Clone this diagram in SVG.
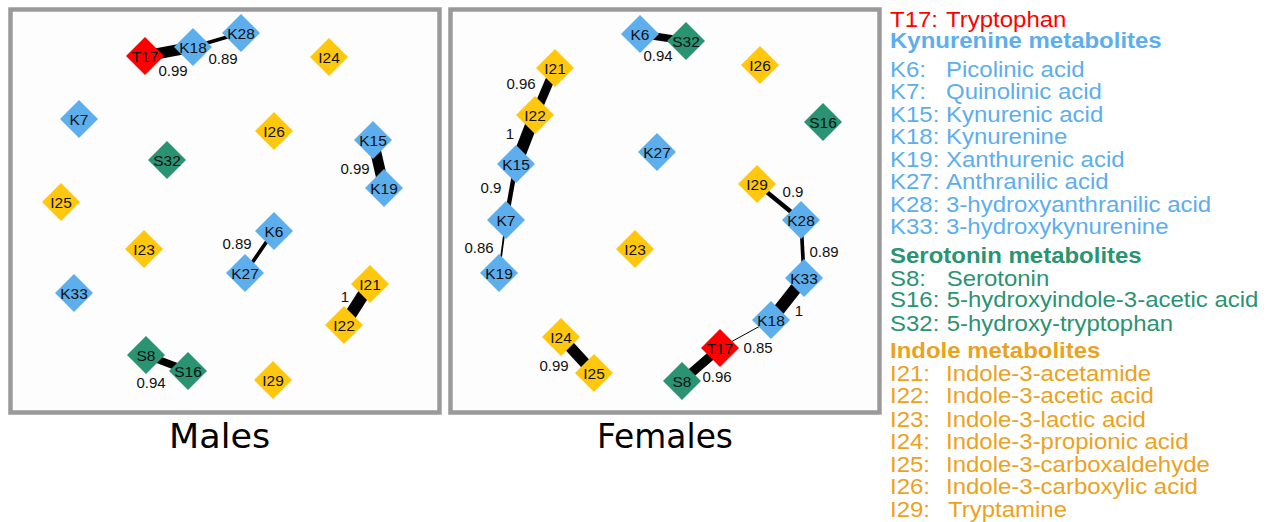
<svg xmlns="http://www.w3.org/2000/svg" xmlns:xlink="http://www.w3.org/1999/xlink" width="1271" height="522" viewBox="0 0 1271 522">
<style>
.frame{fill:#fdfdfd;stroke:#9a9a9a;stroke-width:4.5}
.nt{fill:#ff0000}.nk{fill:#5daeed}.ns{fill:#2a9372}.ni{fill:#ffc80f}
.nl{font-family:"Liberation Sans",Arial,sans-serif;font-size:15.5px;text-anchor:middle;fill:#111}
.el{font-family:"Liberation Sans",Arial,sans-serif;font-size:15px;text-anchor:middle;fill:#111}
.e{stroke:#000;stroke-linecap:butt;fill:none}
.title{font-family:"DejaVu Sans",sans-serif;font-size:34px;text-anchor:middle;fill:#000}
.lg{font-family:"Liberation Sans",Arial,sans-serif;font-size:22px}
.lgb{font-family:"Liberation Sans",Arial,sans-serif;font-size:22px;font-weight:bold}
.ct{fill:#ff0000}.ck{fill:#5daeed}.cs{fill:#2a9372}.ci{fill:#eba21e}
</style>
<defs><path id="d" d="M0,-19L19,0L0,19L-19,0Z"/></defs>
<rect width="1271" height="522" fill="#fff"/>
<rect id="frame-males" class="frame" x="10.5" y="9.5" width="429" height="403"/>
<rect id="frame-females" class="frame" x="450.5" y="9.5" width="429" height="403"/>
<g id="connectors">
<line class="e" x1="145" y1="56" x2="193" y2="47" stroke-width="11"/>
<line class="e" x1="193" y1="47" x2="241" y2="33" stroke-width="3.7"/>
<line class="e" x1="373" y1="140" x2="384" y2="188" stroke-width="11"/>
<line class="e" x1="274" y1="231" x2="245" y2="273" stroke-width="3.7"/>
<line class="e" x1="370" y1="284" x2="344" y2="325" stroke-width="12"/>
<line class="e" x1="146" y1="355" x2="188" y2="371" stroke-width="7.5"/>
<line class="e" x1="640" y1="34" x2="686" y2="41" stroke-width="7.5"/>
<line class="e" x1="555" y1="68" x2="535" y2="115" stroke-width="9"/>
<line class="e" x1="535" y1="115" x2="516" y2="164" stroke-width="12"/>
<line class="e" x1="516" y1="164" x2="506" y2="220" stroke-width="4.5"/>
<line class="e" x1="506" y1="220" x2="499" y2="273" stroke-width="1.8"/>
<line class="e" x1="757" y1="184" x2="801" y2="220" stroke-width="4.5"/>
<line class="e" x1="801" y1="220" x2="804" y2="278" stroke-width="3.7"/>
<line class="e" x1="804" y1="278" x2="771" y2="320" stroke-width="12"/>
<line class="e" x1="771" y1="320" x2="720" y2="348" stroke-width="1"/>
<line class="e" x1="720" y1="348" x2="682" y2="381" stroke-width="9"/>
<line class="e" x1="561" y1="337" x2="594" y2="373" stroke-width="11"/>
</g>
<g id="edge-labels">
<text class="el" x="173" y="75.5">0.99</text>
<text class="el" x="223" y="63.5">0.89</text>
<text class="el" x="355" y="173.5">0.99</text>
<text class="el" x="237" y="248.5">0.89</text>
<text class="el" x="345" y="301.5">1</text>
<text class="el" x="151" y="387.5">0.94</text>
<text class="el" x="658" y="60.5">0.94</text>
<text class="el" x="521" y="88.5">0.96</text>
<text class="el" x="510" y="138.5">1</text>
<text class="el" x="491" y="192.5">0.9</text>
<text class="el" x="793" y="196.5">0.9</text>
<text class="el" x="479" y="252.5">0.86</text>
<text class="el" x="824" y="256.5">0.89</text>
<text class="el" x="799" y="315.5">1</text>
<text class="el" x="758" y="352.5">0.85</text>
<text class="el" x="554" y="370.5">0.99</text>
<text class="el" x="717" y="381.5">0.96</text>
</g>
<g id="m-T17"><use xlink:href="#d" class="nt" x="145" y="56"/><text class="nl" x="145" y="61.5">T17</text></g>
<g id="m-K18"><use xlink:href="#d" class="nk" x="193" y="47"/><text class="nl" x="193" y="52.5">K18</text></g>
<g id="m-K28"><use xlink:href="#d" class="nk" x="241" y="33"/><text class="nl" x="241" y="38.5">K28</text></g>
<g id="m-I24"><use xlink:href="#d" class="ni" x="329" y="57"/><text class="nl" x="329" y="62.5">I24</text></g>
<g id="m-K7"><use xlink:href="#d" class="nk" x="79" y="119"/><text class="nl" x="79" y="124.5">K7</text></g>
<g id="m-I26"><use xlink:href="#d" class="ni" x="274" y="131"/><text class="nl" x="274" y="136.5">I26</text></g>
<g id="m-K15"><use xlink:href="#d" class="nk" x="373" y="140"/><text class="nl" x="373" y="145.5">K15</text></g>
<g id="m-S32"><use xlink:href="#d" class="ns" x="167" y="160"/><text class="nl" x="167" y="165.5">S32</text></g>
<g id="m-K19"><use xlink:href="#d" class="nk" x="384" y="188"/><text class="nl" x="384" y="193.5">K19</text></g>
<g id="m-I25"><use xlink:href="#d" class="ni" x="61" y="202"/><text class="nl" x="61" y="207.5">I25</text></g>
<g id="m-K6"><use xlink:href="#d" class="nk" x="274" y="231"/><text class="nl" x="274" y="236.5">K6</text></g>
<g id="m-I23"><use xlink:href="#d" class="ni" x="144" y="249"/><text class="nl" x="144" y="254.5">I23</text></g>
<g id="m-K27"><use xlink:href="#d" class="nk" x="245" y="273"/><text class="nl" x="245" y="278.5">K27</text></g>
<g id="m-K33"><use xlink:href="#d" class="nk" x="74" y="293"/><text class="nl" x="74" y="298.5">K33</text></g>
<g id="m-I21"><use xlink:href="#d" class="ni" x="370" y="284"/><text class="nl" x="370" y="289.5">I21</text></g>
<g id="m-I22"><use xlink:href="#d" class="ni" x="344" y="325"/><text class="nl" x="344" y="330.5">I22</text></g>
<g id="m-S8"><use xlink:href="#d" class="ns" x="146" y="355"/><text class="nl" x="146" y="360.5">S8</text></g>
<g id="m-S16"><use xlink:href="#d" class="ns" x="188" y="371"/><text class="nl" x="188" y="376.5">S16</text></g>
<g id="m-I29"><use xlink:href="#d" class="ni" x="273" y="380"/><text class="nl" x="273" y="385.5">I29</text></g>
<g id="f-K6"><use xlink:href="#d" class="nk" x="640" y="34"/><text class="nl" x="640" y="39.5">K6</text></g>
<g id="f-S32"><use xlink:href="#d" class="ns" x="686" y="41"/><text class="nl" x="686" y="46.5">S32</text></g>
<g id="f-I21"><use xlink:href="#d" class="ni" x="555" y="68"/><text class="nl" x="555" y="73.5">I21</text></g>
<g id="f-I26"><use xlink:href="#d" class="ni" x="760" y="65"/><text class="nl" x="760" y="70.5">I26</text></g>
<g id="f-I22"><use xlink:href="#d" class="ni" x="535" y="115"/><text class="nl" x="535" y="120.5">I22</text></g>
<g id="f-S16"><use xlink:href="#d" class="ns" x="823" y="122"/><text class="nl" x="823" y="127.5">S16</text></g>
<g id="f-K27"><use xlink:href="#d" class="nk" x="657" y="152"/><text class="nl" x="657" y="157.5">K27</text></g>
<g id="f-K15"><use xlink:href="#d" class="nk" x="516" y="164"/><text class="nl" x="516" y="169.5">K15</text></g>
<g id="f-I29"><use xlink:href="#d" class="ni" x="757" y="184"/><text class="nl" x="757" y="189.5">I29</text></g>
<g id="f-K7"><use xlink:href="#d" class="nk" x="506" y="220"/><text class="nl" x="506" y="225.5">K7</text></g>
<g id="f-K28"><use xlink:href="#d" class="nk" x="801" y="220"/><text class="nl" x="801" y="225.5">K28</text></g>
<g id="f-K19"><use xlink:href="#d" class="nk" x="499" y="273"/><text class="nl" x="499" y="278.5">K19</text></g>
<g id="f-I23"><use xlink:href="#d" class="ni" x="635" y="249"/><text class="nl" x="635" y="254.5">I23</text></g>
<g id="f-K33"><use xlink:href="#d" class="nk" x="804" y="278"/><text class="nl" x="804" y="283.5">K33</text></g>
<g id="f-K18"><use xlink:href="#d" class="nk" x="771" y="320"/><text class="nl" x="771" y="325.5">K18</text></g>
<g id="f-I24"><use xlink:href="#d" class="ni" x="561" y="337"/><text class="nl" x="561" y="342.5">I24</text></g>
<g id="f-T17"><use xlink:href="#d" class="nt" x="720" y="348"/><text class="nl" x="720" y="353.5">T17</text></g>
<g id="f-I25"><use xlink:href="#d" class="ni" x="594" y="373"/><text class="nl" x="594" y="378.5">I25</text></g>
<g id="f-S8"><use xlink:href="#d" class="ns" x="682" y="381"/><text class="nl" x="682" y="386.5">S8</text></g>
<g id="titles">
<text class="title" x="219.6" y="448" textLength="101" lengthAdjust="spacingAndGlyphs">Males</text>
<text class="title" x="665" y="448" textLength="136" lengthAdjust="spacingAndGlyphs">Females</text>
</g>
<g id="legend" transform="translate(890,0) scale(1.09,1)">
<text class="lg ct" y="27"><tspan x="0">T17:</tspan><tspan x="51.4">Tryptophan</tspan></text>
<text class="lgb ck" x="0" y="48.5">Kynurenine metabolites</text>
<text class="lg ck" y="76.7"><tspan x="0">K6:</tspan><tspan x="51.4">Picolinic acid</tspan></text>
<text class="lg ck" y="99.3"><tspan x="0">K7:</tspan><tspan x="51.4">Quinolinic acid</tspan></text>
<text class="lg ck" y="121.7"><tspan x="0">K15:</tspan><tspan x="51.4">Kynurenic acid</tspan></text>
<text class="lg ck" y="144"><tspan x="0">K18:</tspan><tspan x="51.4">Kynurenine</tspan></text>
<text class="lg ck" y="166.7"><tspan x="0">K19:</tspan><tspan x="51.4">Xanthurenic acid</tspan></text>
<text class="lg ck" y="189.3"><tspan x="0">K27:</tspan><tspan x="51.4">Anthranilic acid</tspan></text>
<text class="lg ck" y="212.3"><tspan x="0">K28:</tspan><tspan x="51.4">3-hydroxyanthranilic acid</tspan></text>
<text class="lg ck" y="234.3"><tspan x="0">K33:</tspan><tspan x="51.4">3-hydroxykynurenine</tspan></text>
<text class="lgb cs" x="0" y="262.7">Serotonin metabolites</text>
<text class="lg cs" y="286"><tspan x="0">S8:</tspan><tspan x="52">Serotonin</tspan></text>
<text class="lg cs" y="307.5"><tspan x="0">S16:</tspan><tspan x="52">5-hydroxyindole-3-acetic acid</tspan></text>
<text class="lg cs" y="331"><tspan x="0">S32:</tspan><tspan x="52">5-hydroxy-tryptophan</tspan></text>
<text class="lgb ci" x="0" y="358.3">Indole metabolites</text>
<text class="lg ci" y="380.7"><tspan x="0">I21:</tspan><tspan x="51.4">Indole-3-acetamide</tspan></text>
<text class="lg ci" y="403.3"><tspan x="0">I22:</tspan><tspan x="51.4">Indole-3-acetic acid</tspan></text>
<text class="lg ci" y="426.7"><tspan x="0">I23:</tspan><tspan x="51.4">Indole-3-lactic acid</tspan></text>
<text class="lg ci" y="449.3"><tspan x="0">I24:</tspan><tspan x="51.4">Indole-3-propionic acid</tspan></text>
<text class="lg ci" y="471.7"><tspan x="0">I25:</tspan><tspan x="51.4">Indole-3-carboxaldehyde</tspan></text>
<text class="lg ci" y="494"><tspan x="0">I26:</tspan><tspan x="51.4">Indole-3-carboxylic acid</tspan></text>
<text class="lg ci" y="516.7"><tspan x="0">I29:</tspan><tspan x="53.2">Tryptamine</tspan></text>
</g>
</svg>
